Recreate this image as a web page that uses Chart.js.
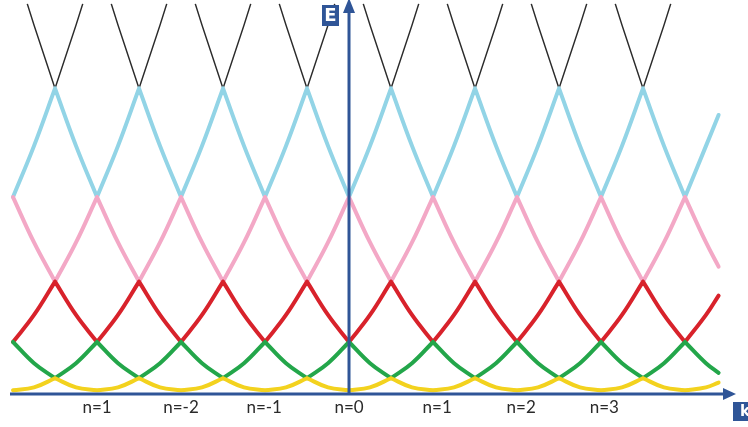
<!DOCTYPE html>
<html>
<head>
<meta charset="utf-8">
<script src="https://cdn.jsdelivr.net/npm/chart.js@4/dist/chart.umd.min.js"></script>
<style>
  html, body { margin: 0; padding: 0; background: #ffffff; }
  #bands { display: block; }
</style>
</head>
<body>
<canvas id="bands" width="748" height="427"></canvas>
<script>

// ==========================
// Data (k in zone units, E in units of the n=1 crossing)
// each arc runs between two crossings; null = break at the crossing
// ==========================

const kValues = [
    -4, -3.75, -3.5, -3.5,   -3.5, -3.25, -3, -3,
    -3, -2.75, -2.5, -2.5,   -2.5, -2.25, -2, -2,
    -2, -1.75, -1.5, -1.5,   -1.5, -1.25, -1, -1,
    -1, -0.75, -0.5, -0.5,   -0.5, -0.25, 0, 0,
    0, 0.25, 0.5, 0.5,       0.5, 0.75, 1, 1,
    1, 1.25, 1.5, 1.5,       1.5, 1.75, 2, 2,
    2, 2.25, 2.5, 2.5,       2.5, 2.75, 3, 3,
    3, 3.25, 3.5, 3.5,       3.5, 3.75, 4, 4,
    4, 4.25, 4.4
];

const yellowE = [
    0, 0.06, 0.25, null,   0.25, 0.06, 0, null,
    0, 0.06, 0.25, null,   0.25, 0.06, 0, null,
    0, 0.06, 0.25, null,   0.25, 0.06, 0, null,
    0, 0.06, 0.25, null,   0.25, 0.06, 0, null,
    0, 0.06, 0.25, null,   0.25, 0.06, 0, null,
    0, 0.06, 0.25, null,   0.25, 0.06, 0, null,
    0, 0.06, 0.25, null,   0.25, 0.06, 0, null,
    0, 0.06, 0.25, null,   0.25, 0.06, 0, null,
    0, 0.06, 0.16
];

const greenE = [
    1, 0.56, 0.25, null,   0.25, 0.56, 1, null,
    1, 0.56, 0.25, null,   0.25, 0.56, 1, null,
    1, 0.56, 0.25, null,   0.25, 0.56, 1, null,
    1, 0.56, 0.25, null,   0.25, 0.56, 1, null,
    1, 0.56, 0.25, null,   0.25, 0.56, 1, null,
    1, 0.56, 0.25, null,   0.25, 0.56, 1, null,
    1, 0.56, 0.25, null,   0.25, 0.56, 1, null,
    1, 0.56, 0.25, null,   0.25, 0.56, 1, null,
    1, 0.56, 0.36
];

const redE = [
    1, 1.56, 2.25, null,   2.25, 1.56, 1, null,
    1, 1.56, 2.25, null,   2.25, 1.56, 1, null,
    1, 1.56, 2.25, null,   2.25, 1.56, 1, null,
    1, 1.56, 2.25, null,   2.25, 1.56, 1, null,
    1, 1.56, 2.25, null,   2.25, 1.56, 1, null,
    1, 1.56, 2.25, null,   2.25, 1.56, 1, null,
    1, 1.56, 2.25, null,   2.25, 1.56, 1, null,
    1, 1.56, 2.25, null,   2.25, 1.56, 1, null,
    1, 1.56, 1.96
];

const pinkE = [
    4, 3.06, 2.25, null,   2.25, 3.06, 4, null,
    4, 3.06, 2.25, null,   2.25, 3.06, 4, null,
    4, 3.06, 2.25, null,   2.25, 3.06, 4, null,
    4, 3.06, 2.25, null,   2.25, 3.06, 4, null,
    4, 3.06, 2.25, null,   2.25, 3.06, 4, null,
    4, 3.06, 2.25, null,   2.25, 3.06, 4, null,
    4, 3.06, 2.25, null,   2.25, 3.06, 4, null,
    4, 3.06, 2.25, null,   2.25, 3.06, 4, null,
    4, 3.06, 2.56
];

const cyanE = [
    4, 5.06, 6.25, null,   6.25, 5.06, 4, null,
    4, 5.06, 6.25, null,   6.25, 5.06, 4, null,
    4, 5.06, 6.25, null,   6.25, 5.06, 4, null,
    4, 5.06, 6.25, null,   6.25, 5.06, 4, null,
    4, 5.06, 6.25, null,   6.25, 5.06, 4, null,
    4, 5.06, 6.25, null,   6.25, 5.06, 4, null,
    4, 5.06, 6.25, null,   6.25, 5.06, 4, null,
    4, 5.06, 6.25, null,   6.25, 5.06, 4, null,
    4, 5.06, 5.7
];

// black V's above the cyan band, split by gaps
const kBlack = [
    -3.83, -3.75, -3.5, -3.25, -3.17, -3,
    -2.83, -2.75, -2.5, -2.25, -2.17, -2,
    -1.83, -1.75, -1.5, -1.25, -1.17, -1,
    -0.83, -0.75, -0.5, -0.25, -0.17, 0,
    0.17, 0.25, 0.5, 0.75, 0.83, 1,
    1.17, 1.25, 1.5, 1.75, 1.83, 2,
    2.17, 2.25, 2.5, 2.75, 2.83, 3,
    3.17, 3.25, 3.5, 3.75, 3.83
];

const blackE = [
    8, 7.56, 6.25, 7.56, 8, null,
    8, 7.56, 6.25, 7.56, 8, null,
    8, 7.56, 6.25, 7.56, 8, null,
    8, 7.56, 6.25, 7.56, 8, null,
    8, 7.56, 6.25, 7.56, 8, null,
    8, 7.56, 6.25, 7.56, 8, null,
    8, 7.56, 6.25, 7.56, 8, null,
    8, 7.56, 6.25, 7.56, 8
];

// tick labels under the k axis
const nPositions = [-3, -2, -1.01, 0, 1.05, 2.05, 3.04];
const nLabels = ["n=1", "n=-2", "n=-1", "n=0", "n=1", "n=2", "n=3"];

// ==========================
// Helpers
// ==========================

const toPoints = (ks, es) => ks.map((k, i) => ({ x: k, y: es[i] }));

const band = (label, es, color) => ({
    label: label,
    data: toPoints(kValues, es),
    borderColor: color,
    borderWidth: 4,
    borderCapStyle: "round",
    borderJoinStyle: "round",
    pointRadius: 0,
    tension: 0.4,
    spanGaps: false,
    clip: false
});

const axisBlue = "#2F5597";

// ==========================
// Axes, arrows and labels
// ==========================

const axesPlugin = {
    id: "bandAxes",
    afterDatasetsDraw(chart) {
        const { ctx, scales } = chart;
        const x0 = scales.x.getPixelForValue(0);
        const yAxis = 394;

        ctx.save();
        ctx.strokeStyle = axisBlue;
        ctx.fillStyle = axisBlue;
        ctx.lineWidth = 3;

        // k axis
        ctx.beginPath();
        ctx.moveTo(10, yAxis);
        ctx.lineTo(726, yAxis);
        ctx.stroke();
        ctx.beginPath();
        ctx.moveTo(723, yAxis - 6);
        ctx.lineTo(736, yAxis);
        ctx.lineTo(723, yAxis + 6);
        ctx.closePath();
        ctx.fill();

        // E axis
        ctx.beginPath();
        ctx.moveTo(x0, yAxis + 1);
        ctx.lineTo(x0, 10);
        ctx.stroke();
        ctx.beginPath();
        ctx.moveTo(x0 - 6, 13);
        ctx.lineTo(x0, -2);
        ctx.lineTo(x0 + 6, 13);
        ctx.closePath();
        ctx.fill();

        // E label box
        ctx.fillRect(322, 5, 17, 21);
        ctx.fillStyle = "#ffffff";
        ctx.font = "bold 18px 'DejaVu Sans'";
        ctx.textAlign = "center";
        ctx.textBaseline = "middle";
        ctx.fillText("E", 330.5, 16);

        // k label box (cut by the right edge)
        ctx.fillStyle = axisBlue;
        ctx.fillRect(733, 402, 16, 19);
        ctx.fillStyle = "#ffffff";
        ctx.font = "bold 15px 'DejaVu Sans'";
        ctx.textAlign = "left";
        ctx.fillText("k", 740, 412);

        // n labels
        ctx.fillStyle = "#2a2a2a";
        ctx.font = "17px Lato";
        ctx.textAlign = "center";
        ctx.textBaseline = "alphabetic";
        nPositions.forEach((n, i) => {
            ctx.fillText(nLabels[i], scales.x.getPixelForValue(n), 413);
        });

        ctx.restore();
    }
};

// ==========================
// Chart
// ==========================

document.addEventListener("DOMContentLoaded", () => {

    const canvas = document.getElementById("bands");

    new Chart(canvas, {
        type: "line",
        data: {
            datasets: [
                band("n band 1", yellowE, "#F3D21E"),
                band("n band 2", greenE, "#23A64A"),
                band("n band 3", redE, "#D8222B"),
                band("n band 4", pinkE, "#F3A8C6"),
                band("n band 5", cyanE, "#92D4E6"),
                {
                    label: "n band 6",
                    data: toPoints(kBlack, blackE),
                    borderColor: "#2b2b2b",
                    borderWidth: 1.5,
                    pointRadius: 0,
                    tension: 0,
                    spanGaps: false,
                    clip: false
                }
            ]
        },
        options: {
            responsive: false,
            animation: false,
            devicePixelRatio: 1,
            layout: { padding: 0 },
            plugins: {
                legend: { display: false },
                tooltip: { enabled: false }
            },
            scales: {
                x: {
                    type: "linear",
                    min: -4.155,
                    max: 4.75,
                    display: false
                },
                y: {
                    type: "linear",
                    min: -0.76,
                    max: 8.08,
                    display: false
                }
            }
        },
        plugins: [axesPlugin]
    });

});
</script>
</body>
</html>
